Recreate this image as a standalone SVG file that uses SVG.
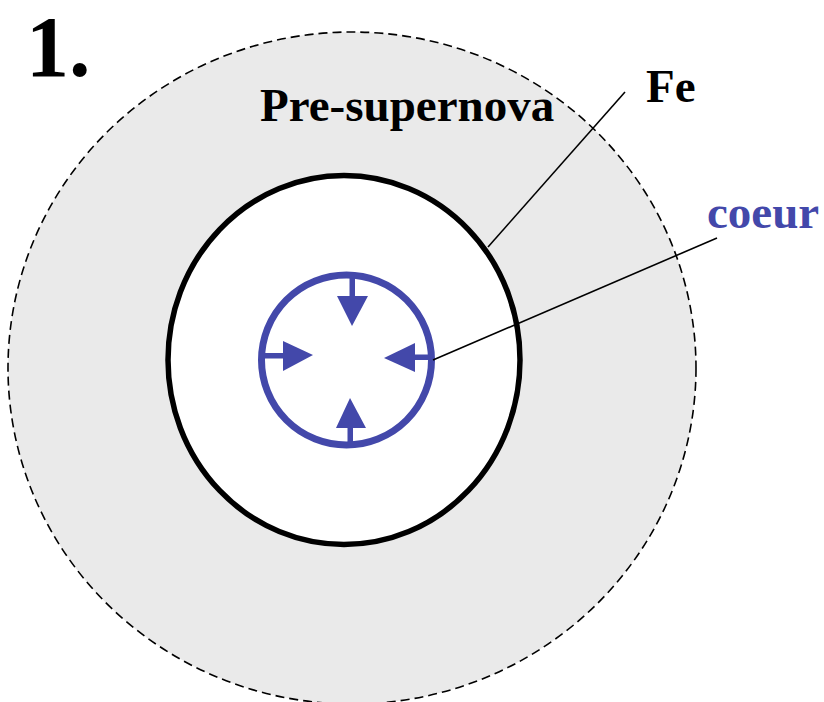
<svg xmlns="http://www.w3.org/2000/svg" width="824" height="702" viewBox="0 0 824 702">
<style>
.lbl{font-family:"Liberation Serif","Times New Roman",serif;font-weight:bold}
.blue{fill:#4348AA}
.bstroke{stroke:#4348AA;fill:none}
.lead{stroke:#000;stroke-width:1.6;fill:none}
</style>
<rect width="824" height="702" fill="#fff"/>
<g id="presupernova">
<ellipse cx="352" cy="368" rx="344" ry="336" fill="#EAEAEA" stroke="#000" stroke-width="1.6" stroke-dasharray="9,5"/>
<text class="lbl" x="260" y="121" font-size="47">Pre-supernova</text>
</g>
<g id="fe">
<ellipse cx="344" cy="360" rx="176" ry="184.5" fill="#fff" stroke="#000" stroke-width="5.5"/>
<text class="lbl" x="646" y="102" font-size="47">Fe</text>
</g>
<g id="coeur">
<ellipse cx="346.5" cy="360" rx="85" ry="85" class="bstroke" stroke-width="7"/>
<g class="blue">
<rect x="349.5" y="275" width="5.5" height="23"/>
<polygon points="337,296 368,296 352,326"/>
<rect x="347.5" y="426" width="5.5" height="20"/>
<polygon points="336,428 366,428 350,398"/>
<rect x="261" y="353" width="24" height="5.5"/>
<polygon points="283,341 283,371 313,355"/>
<rect x="413" y="354.5" width="21" height="5.5"/>
<polygon points="415,343 415,372 384,358"/>
</g>
<text class="lbl blue" x="707" y="228" font-size="47">coeur</text>
</g>
<g id="title">
<text class="lbl" x="26" y="76" font-size="86">1.</text>
</g>
<g id="connectors">
<line class="lead" x1="488" y1="247" x2="625" y2="92"/>
<line class="lead" x1="433" y1="360" x2="717" y2="238"/>
</g>
</svg>
